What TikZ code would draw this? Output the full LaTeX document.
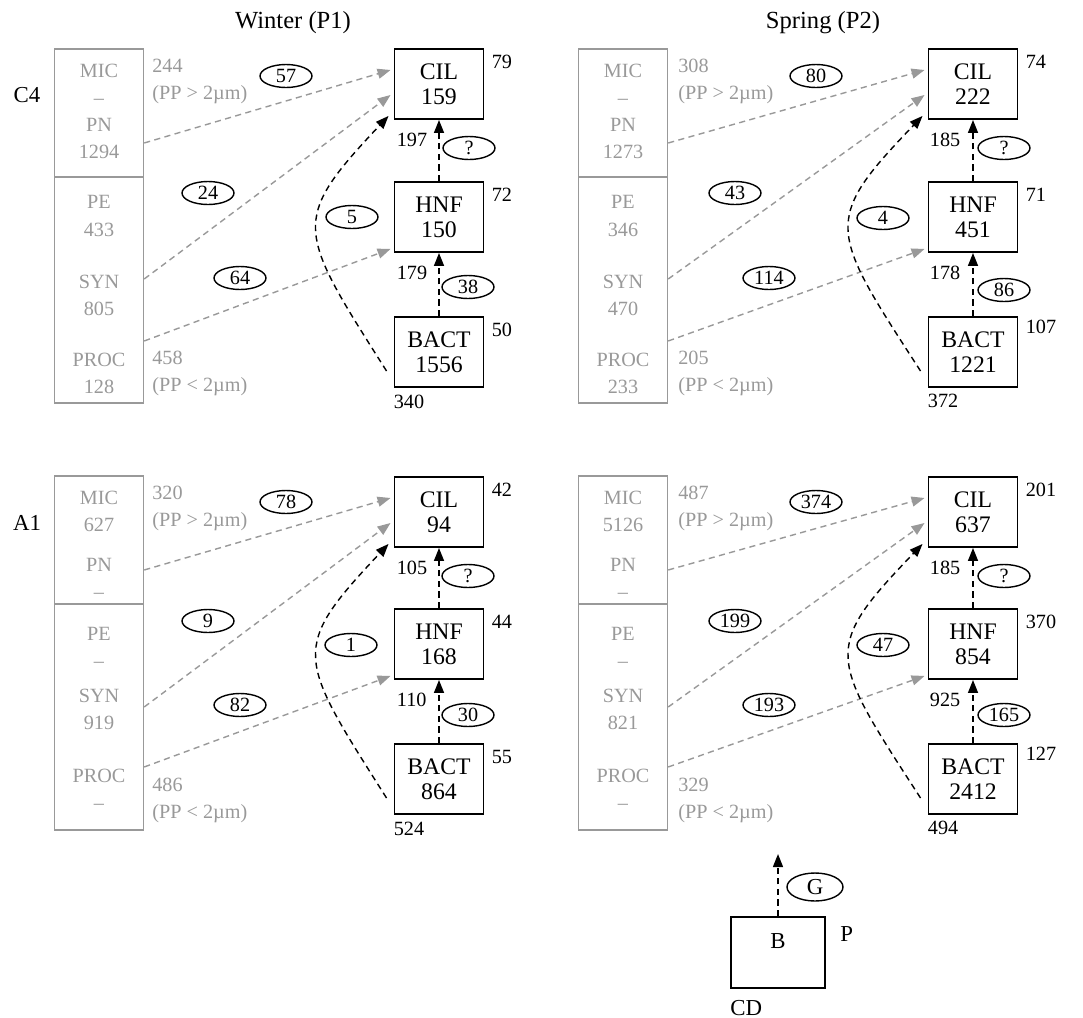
\documentclass[tikz,border=0pt]{standalone}
\usepackage{fontspec}
\setmainfont{Liberation Serif}
\usetikzlibrary{arrows.meta,positioning,shapes.geometric,calc}
\definecolor{pgray}{gray}{0.6}
\tikzset{
      grazerbox/.style={
        draw,
        line width=1.1pt,
        minimum width=1.78cm,
        minimum height=1.4cm,
        inner sep=0pt,
        align=center,
        font=\fontsize{13.5}{14.2}\selectfont
      },
      preybox/.style={draw=pgray, line width=0.8pt, minimum width=1.78cm, inner sep=0pt},
      preytext/.style={text=pgray, align=center, inner sep=0pt, font=\fontsize{11.5}{15.4}\selectfont},
      sizetext/.style={text=pgray, align=left, anchor=west, inner sep=0pt, font=\fontsize{11.5}{15.4}\selectfont},
      sidenum/.style={inner sep=0pt, anchor=north west, font=\fontsize{11.5}{13}\selectfont},
      rateoval/.style={ellipse, draw, line width=0.8pt, minimum width=1.04cm, minimum height=0.46cm, inner sep=0pt, font=\fontsize{11.5}{12}\selectfont},
      headtext/.style={font=\fontsize{14}{16}\selectfont},
      feedarrow/.style={draw, line width=0.8pt, dash pattern=on 3.5pt off 2.5pt, -{Triangle[length=0.26cm,width=0.2cm]}},
      grazearrow/.style={feedarrow, draw=pgray}
    }

\begin{document}
\begin{tikzpicture}[x=0.02cm,y=-0.02cm]
    \useasboundingbox (0,0) rectangle (1083,1018);
    \node[headtext] (winter) at (293,23) {Winter (P1)};
    \node[headtext] (spring) at (823,23) {Spring (P2)};
    \node[headtext, font=\fontsize{13}{15}\selectfont] (c4) at (27,95) {C4};
    \node[headtext, font=\fontsize{13}{15}\selectfont] (a1) at (27,523) {A1};

    \node[preybox, minimum height=2.56cm] (c4w-up) at (99,113) {};
    \node[preybox, minimum height=4.52cm] (c4w-low) at (99,290) {};
    \node[preytext] (c4w-mic) at (99,111.5) {MIC\\–\\PN\\1294};
    \node[preytext] (c4w-pe) at (99,216) {PE\\433};
    \node[preytext] (c4w-syn) at (99,295) {SYN\\805};
    \node[preytext] (c4w-proc) at (99,373.5) {PROC\\128};
    \node[sizetext] (c4w-big) at (152,81.5) {244\\(PP > 2µm)};
    \node[sizetext] (c4w-small) at (152,373) {458\\(PP < 2µm)};
    \node[grazerbox] (c4w-cil) at (439,84) {CIL\\159};
    \node[grazerbox] (c4w-hnf) at (439,217) {HNF\\150};
    \node[grazerbox] (c4w-bact) at (439,352) {BACT\\1556};
    \node[sidenum] (c4w-n1) at ([shift={(7,7)}]c4w-cil.north east) {79};
    \node[sidenum] (c4w-n2) at ([shift={(7,7)}]c4w-hnf.north east) {72};
    \node[sidenum] (c4w-n3) at ([shift={(7,7)}]c4w-bact.north east) {50};
    \node[sidenum] (c4w-n4) at ([shift={(3,13)}]c4w-cil.south west) {197};
    \node[sidenum] (c4w-n5) at ([shift={(3,13)}]c4w-hnf.south west) {179};
    \node[sidenum] (c4w-n6) at ([shift={(0,7)}]c4w-bact.south west) {340};
    \node[rateoval] (c4w-r1) at (286,76) {57};
    \node[rateoval] (c4w-r2) at (208,193) {24};
    \node[rateoval] (c4w-r3) at (240,278) {64};
    \node[rateoval] (c4w-r4) at (352,217) {5};
    \node[rateoval] (c4w-r5) at (469,148) {?};
    \node[rateoval] (c4w-r6) at (468,287) {38};
    \draw[grazearrow] ($(c4w-up.east)+(0,30)$) -- ($(c4w-cil.west)+(-3,-14)$);
    \draw[grazearrow] ($(c4w-low.east)+(0,-11)$) -- ($(c4w-cil.west)+(-3,11)$);
    \draw[grazearrow] ($(c4w-low.east)+(0,51)$) -- ($(c4w-hnf.south west)+(-3,-4)$);
    \draw[feedarrow] (c4w-hnf.north) -- (c4w-cil.south);
    \draw[feedarrow] (c4w-bact.north) -- (c4w-hnf.south);
    \draw[feedarrow] ($(c4w-bact.west)+(-7,19)$) .. controls +(-90,-142) and +(-99,105) .. ($(c4w-cil.south west)+(-5,-4)$);

    \node[preybox, minimum height=2.56cm] (c4s-up) at (623,113) {};
    \node[preybox, minimum height=4.52cm] (c4s-low) at (623,290) {};
    \node[preytext] (c4s-mic) at (623,111.5) {MIC\\–\\PN\\1273};
    \node[preytext] (c4s-pe) at (623,216) {PE\\346};
    \node[preytext] (c4s-syn) at (623,295) {SYN\\470};
    \node[preytext] (c4s-proc) at (623,373.5) {PROC\\233};
    \node[sizetext] (c4s-big) at (678,81.5) {308\\(PP > 2µm)};
    \node[sizetext] (c4s-small) at (678,373) {205\\(PP < 2µm)};
    \node[grazerbox] (c4s-cil) at (973,84) {CIL\\222};
    \node[grazerbox] (c4s-hnf) at (973,217) {HNF\\451};
    \node[grazerbox] (c4s-bact) at (973,352) {BACT\\1221};
    \node[sidenum] (c4s-n1) at ([shift={(7,7)}]c4s-cil.north east) {74};
    \node[sidenum] (c4s-n2) at ([shift={(7,7)}]c4s-hnf.north east) {71};
    \node[sidenum] (c4s-n3) at ([shift={(7,4)}]c4s-bact.north east) {107};
    \node[sidenum] (c4s-n4) at ([shift={(2,13)}]c4s-cil.south west) {185};
    \node[sidenum] (c4s-n5) at ([shift={(2,13)}]c4s-hnf.south west) {178};
    \node[sidenum] (c4s-n6) at ([shift={(0,6)}]c4s-bact.south west) {372};
    \node[rateoval] (c4s-r1) at (816,76) {80};
    \node[rateoval] (c4s-r2) at (735,193) {43};
    \node[rateoval] (c4s-r3) at (769,278) {114};
    \node[rateoval] (c4s-r4) at (883,218) {4};
    \node[rateoval] (c4s-r5) at (1004,148) {?};
    \node[rateoval] (c4s-r6) at (1004,290) {86};
    \draw[grazearrow] ($(c4s-up.east)+(0,30)$) -- ($(c4s-cil.west)+(-3,-14)$);
    \draw[grazearrow] ($(c4s-low.east)+(0,-11)$) -- ($(c4s-cil.west)+(-3,11)$);
    \draw[grazearrow] ($(c4s-low.east)+(0,51)$) -- ($(c4s-hnf.south west)+(-3,-4)$);
    \draw[feedarrow] (c4s-hnf.north) -- (c4s-cil.south);
    \draw[feedarrow] (c4s-bact.north) -- (c4s-hnf.south);
    \draw[feedarrow] ($(c4s-bact.west)+(-7,19)$) .. controls +(-92,-142) and +(-101,105) .. ($(c4s-cil.south west)+(-5,-4)$);

    \begin{scope}[shift={(0,427)}]
    \node[preybox, minimum height=2.56cm] (a1w-up) at (99,113) {};
    \node[preybox, minimum height=4.52cm] (a1w-low) at (99,290) {};
    \node[preytext] (a1w-mic) at (99,84) {MIC\\627};
    \node[preytext] (a1w-pn) at (99,151.5) {PN\\–};
    \node[preytext] (a1w-pe) at (99,220.5) {PE\\–};
    \node[preytext] (a1w-syn) at (99,282.5) {SYN\\919};
    \node[preytext] (a1w-proc) at (99,362) {PROC\\–};
    \node[sizetext] (a1w-big) at (152,81.5) {320\\(PP > 2µm)};
    \node[sizetext] (a1w-small) at (152,373) {486\\(PP < 2µm)};
    \node[grazerbox] (a1w-cil) at (439,85) {CIL\\94};
    \node[grazerbox] (a1w-hnf) at (439,217) {HNF\\168};
    \node[grazerbox] (a1w-bact) at (439,352) {BACT\\864};
    \node[sidenum] (a1w-n1) at ([shift={(7,7)}]a1w-cil.north east) {42};
    \node[sidenum] (a1w-n2) at ([shift={(7,7)}]a1w-hnf.north east) {44};
    \node[sidenum] (a1w-n3) at ([shift={(7,7)}]a1w-bact.north east) {55};
    \node[sidenum] (a1w-n4) at ([shift={(3,13)}]a1w-cil.south west) {105};
    \node[sidenum] (a1w-n5) at ([shift={(3,13)}]a1w-hnf.south west) {110};
    \node[sidenum] (a1w-n6) at ([shift={(0,7)}]a1w-bact.south west) {524};
    \node[rateoval] (a1w-r1) at (286,75) {78};
    \node[rateoval] (a1w-r2) at (208,194) {9};
    \node[rateoval] (a1w-r3) at (240,278) {82};
    \node[rateoval] (a1w-r4) at (351,218) {1};
    \node[rateoval] (a1w-r5) at (468,149) {?};
    \node[rateoval] (a1w-r6) at (468,288) {30};
    \draw[grazearrow] ($(a1w-up.east)+(0,30)$) -- ($(a1w-cil.west)+(-3,-14)$);
    \draw[grazearrow] ($(a1w-low.east)+(0,-10)$) -- ($(a1w-cil.west)+(-3,11)$);
    \draw[grazearrow] ($(a1w-low.east)+(0,50)$) -- ($(a1w-hnf.south west)+(-3,-4)$);
    \draw[feedarrow] (a1w-hnf.north) -- (a1w-cil.south);
    \draw[feedarrow] (a1w-bact.north) -- (a1w-hnf.south);
    \draw[feedarrow] ($(a1w-bact.west)+(-7,19)$) .. controls +(-90,-142) and +(-99,105) .. ($(a1w-cil.south west)+(-5,-4)$);

    \node[preybox, minimum height=2.56cm] (a1s-up) at (623,113) {};
    \node[preybox, minimum height=4.52cm] (a1s-low) at (623,290) {};
    \node[preytext] (a1s-mic) at (623,84) {MIC\\5126};
    \node[preytext] (a1s-pn) at (623,151.5) {PN\\–};
    \node[preytext] (a1s-pe) at (623,220.5) {PE\\–};
    \node[preytext] (a1s-syn) at (623,282.5) {SYN\\821};
    \node[preytext] (a1s-proc) at (623,362) {PROC\\–};
    \node[sizetext] (a1s-big) at (678,81.5) {487\\(PP > 2µm)};
    \node[sizetext] (a1s-small) at (678,373) {329\\(PP < 2µm)};
    \node[grazerbox] (a1s-cil) at (973,85) {CIL\\637};
    \node[grazerbox] (a1s-hnf) at (973,217) {HNF\\854};
    \node[grazerbox] (a1s-bact) at (973,352) {BACT\\2412};
    \node[sidenum] (a1s-n1) at ([shift={(7,7)}]a1s-cil.north east) {201};
    \node[sidenum] (a1s-n2) at ([shift={(7,7)}]a1s-hnf.north east) {370};
    \node[sidenum] (a1s-n3) at ([shift={(7,4)}]a1s-bact.north east) {127};
    \node[sidenum] (a1s-n4) at ([shift={(2,13)}]a1s-cil.south west) {185};
    \node[sidenum] (a1s-n5) at ([shift={(2,13)}]a1s-hnf.south west) {925};
    \node[sidenum] (a1s-n6) at ([shift={(0,6)}]a1s-bact.south west) {494};
    \node[rateoval] (a1s-r1) at (816,75) {374};
    \node[rateoval] (a1s-r2) at (735,194) {199};
    \node[rateoval] (a1s-r3) at (769,278) {193};
    \node[rateoval] (a1s-r4) at (883,218) {47};
    \node[rateoval] (a1s-r5) at (1004,149) {?};
    \node[rateoval] (a1s-r6) at (1004,288) {165};
    \draw[grazearrow] ($(a1s-up.east)+(0,30)$) -- ($(a1s-cil.west)+(-3,-14)$);
    \draw[grazearrow] ($(a1s-low.east)+(0,-10)$) -- ($(a1s-cil.west)+(-3,11)$);
    \draw[grazearrow] ($(a1s-low.east)+(0,50)$) -- ($(a1s-hnf.south west)+(-3,-4)$);
    \draw[feedarrow] (a1s-hnf.north) -- (a1s-cil.south);
    \draw[feedarrow] (a1s-bact.north) -- (a1s-hnf.south);
    \draw[feedarrow] ($(a1s-bact.west)+(-7,19)$) .. controls +(-92,-142) and +(-101,105) .. ($(a1s-cil.south west)+(-5,-4)$);
    \end{scope}

    \node[grazerbox, minimum width=1.88cm, minimum height=1.42cm, text depth=13pt, font=\fontsize{13}{15}\selectfont] (key-b) at (778,952.5) {B};
    \node[sidenum, font=\fontsize{13}{15}\selectfont] (key-p) at ([shift={(14,10)}]key-b.north east) {P};
    \node[sidenum, font=\fontsize{13}{15}\selectfont] (key-cd) at ([shift={(0,11)}]key-b.south west) {CD};
    \node[rateoval, minimum width=1.12cm, minimum height=0.56cm, font=\fontsize{13}{15}\selectfont] (key-g) at (815,887) {G};
    \coordinate (key-tip) at ($(key-b.north)+(0,-62)$);
    \draw[feedarrow] (key-b.north) -- (key-tip);
    \end{tikzpicture}
\end{document}
